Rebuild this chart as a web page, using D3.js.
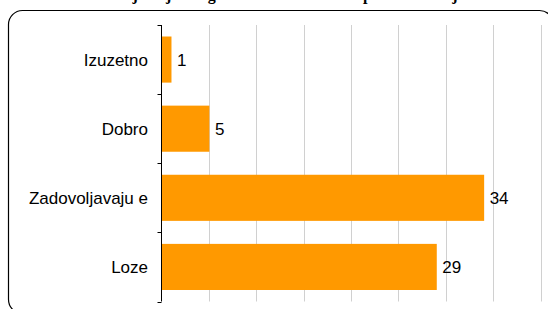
<!DOCTYPE html>
<html>
<head>
<meta charset="utf-8">
<script src="https://cdn.jsdelivr.net/npm/d3@7"></script>
<style>
  html, body { margin: 0; padding: 0; background: #fff; }
  svg { display: block; }
</style>
</head>
<body>
<svg id="chart" width="548" height="309"></svg>
<script>
const titleText = "Ocjena je i dogovor s svim akterima putem veze i javnosti";
const categories = ["Izuzetno", "Dobro", "Zadovoljavaju e", "Loze"];
const values = [1, 5, 34, 29];
const gridTicks = [5, 10, 15, 20, 25, 30, 35, 40];

const svg = d3.select("#chart");

// outer rounded frame
svg.append("rect")
  .attr("x", 8.5).attr("y", 10.5)
  .attr("width", 545).attr("height", 303)
  .attr("rx", 14).attr("ry", 14)
  .attr("fill", "#fff").attr("stroke", "#000").attr("stroke-width", 1.2);

// title (cut off above the frame, as in the reference)
svg.append("text")
  .attr("x", 113).attr("y", -0.5)
  .attr("text-anchor", "start")
  .attr("font-family", "Liberation Serif, Times New Roman, serif")
  .attr("font-weight", "bold")
  .attr("font-size", 16)
  .text(titleText);

const margin = { left: 161.5, top: 25, bottom: 301.5 };
const x = d3.scaleLinear().domain([0, 40]).range([margin.left, margin.left + 379]);
const y = d3.scaleBand().domain(categories).range([margin.top, margin.bottom]).paddingInner(0.333).paddingOuter(0.1665);

// gridlines
svg.append("g").selectAll("line").data(gridTicks).join("line")
  .attr("x1", d => Math.round(x(d)) + 0.5).attr("x2", d => Math.round(x(d)) + 0.5)
  .attr("y1", margin.top).attr("y2", margin.bottom)
  .attr("stroke", "#d0d0d0").attr("stroke-width", 1);

// bars
svg.append("g").selectAll("rect").data(values).join("rect")
  .attr("x", x(0) + 0.5)
  .attr("y", (d, i) => y(categories[i]))
  .attr("width", d => x(d) - x(0))
  .attr("height", y.bandwidth())
  .attr("fill", "#ff9900");

// value labels
svg.append("g").selectAll("text").data(values).join("text")
  .attr("x", d => x(d) + 6)
  .attr("y", (d, i) => y(categories[i]) + y.bandwidth() / 2)
  .attr("dy", "0.36em")
  .attr("font-family", "Liberation Sans, Arial, sans-serif")
  .attr("font-size", 17)
  .attr("fill", "#000")
  .text(d => d);

// vertical axis with category boundary ticks
const yAxisG = svg.append("g");
yAxisG.append("line")
  .attr("x1", margin.left).attr("x2", margin.left)
  .attr("y1", margin.top).attr("y2", margin.bottom)
  .attr("stroke", "#000").attr("stroke-width", 1);
const boundaries = d3.range(categories.length + 1).map(i => margin.top + i * (margin.bottom - margin.top) / categories.length);
yAxisG.selectAll("line.tk").data(boundaries).join("line").attr("class", "tk")
  .attr("x1", margin.left - 4).attr("x2", margin.left)
  .attr("y1", d => Math.round(d) + 0.5).attr("y2", d => Math.round(d) + 0.5)
  .attr("stroke", "#000").attr("stroke-width", 1);

// category labels
svg.append("g").selectAll("text").data(categories).join("text")
  .attr("x", 148)
  .attr("y", d => y(d) + y.bandwidth() / 2)
  .attr("dy", "0.36em")
  .attr("text-anchor", "end")
  .attr("font-family", "Liberation Sans, Arial, sans-serif")
  .attr("font-size", 17)
  .attr("fill", "#000")
  .text(d => d);
</script>
</body>
</html>
